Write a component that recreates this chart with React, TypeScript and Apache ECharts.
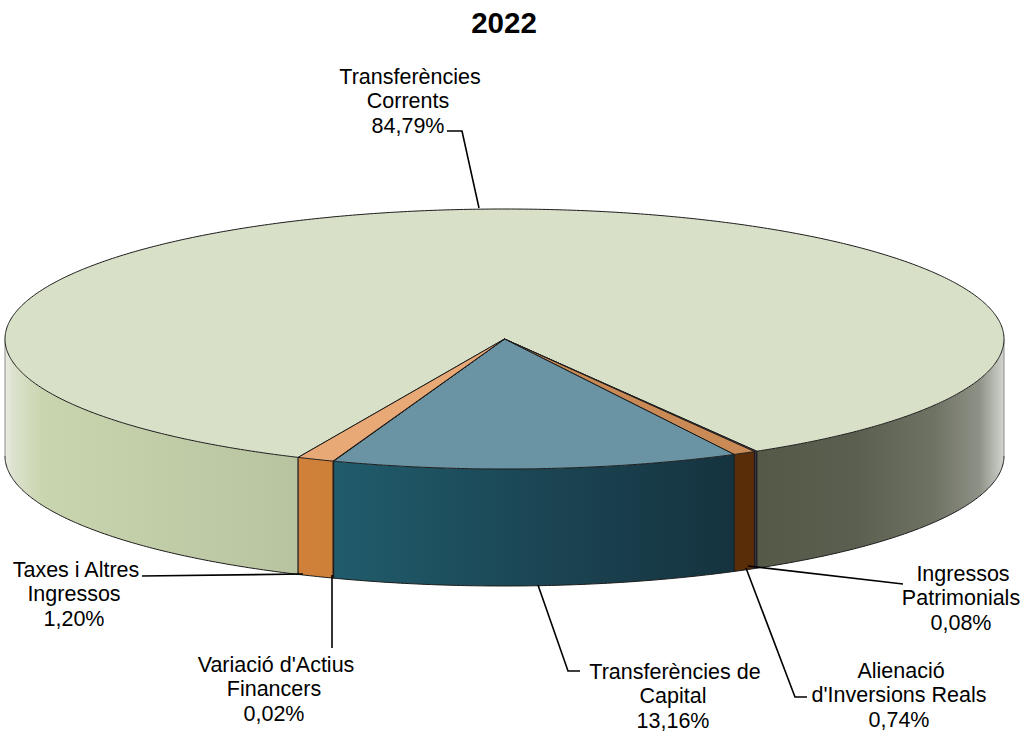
import React, { useEffect, useRef } from "react";
import * as echarts from "echarts";

const titleText = "2022";
const categories = [
  "Transferències\nCorrents",
  "Ingressos\nPatrimonials",
  "Alienació\nd'Inversions Reals",
  "Transferències de\nCapital",
  "Variació d'Actius\nFinancers",
  "Taxes i Altres\nIngressos",
];
const shares = [84.79, 0.08, 0.74, 13.16, 0.02, 1.2];
const shareLabels = ["84,79%", "0,08%", "0,74%", "13,16%", "0,02%", "1,20%"];

// styling and layout, apart from the data
const topColors = ["#d8e0c7", "#8a6a9a", "#c98a55", "#6a94a4", "#e9a976", "#e9a976"];
const sideStops: [number, string][][] = [
  [[0, "#e8ebe0"], [0.03, "#dbe1cd"], [0.13, "#c9d5ae"], [1, "#b8c4a0"]],
  [[0, "#3a3450"], [1, "#3a3450"]],
  [[0, "#5a2e08"], [1, "#572c07"]],
  [[0, "#205c6c"], [0.55, "#1b4452"], [1, "#15333f"]],
  [[0, "#d08039"], [1, "#d08039"]],
  [[0, "#d08039"], [1, "#ce7f38"]],
];
const rightSideStops: [number, string][] = [
  [0, "#555948"], [0.4, "#5b5f4f"], [0.72, "#6f7364"], [0.9, "#8e9186"], [0.98, "#c4c7bf"], [1, "#d2d4ce"],
];
const cx = 504.5;
const cy = 339;
const rx = 499.5;
const ry = 130;
const depth = 117;
const startDeg = 114.4;
const ink = "#1c1c1c";
const font = '"Liberation Sans", Arial, sans-serif';
const lineShift = [0, -2, -2];

const labelLayout = [
  { x: 410, y: 76.5, line: [[447, 131], [462, 131], [479, 208]] },
  { x: 963, y: 573.5, line: [[748, 566], [903, 584]] },
  { x: 901, y: 670.5, line: [[746, 568], [795, 697], [807, 697]] },
  { x: 675, y: 671.5, line: [[538, 585], [568, 671], [580, 671]] },
  { x: 276, y: 664.5, line: [[332, 575], [332, 648]] },
  { x: 76, y: 569.5, line: [[142, 576], [303, 574]] },
];

const total = shares.reduce((a, b) => a + b, 0);
const pt = (deg: number, dy = 0): number[] => {
  const r = (deg * Math.PI) / 180;
  return [cx + rx * Math.cos(r), cy + ry * Math.sin(r) + dy];
};
const arc = (a: number, b: number, dy = 0): number[][] => {
  const n = Math.max(2, Math.ceil(Math.abs(b - a) / 0.5));
  const out: number[][] = [];
  for (let i = 0; i <= n; i++) out.push(pt(a + ((b - a) * i) / n, dy));
  return out;
};

function renderSlice(params: any, api: any) {
  const i = params.dataIndex;
  const before = shares.slice(0, i).reduce((a, b) => a + b, 0);
  const a0 = startDeg + (before / total) * 360;
  const a1 = a0 + (api.value(0) / total) * 360;
  const children: any[] = [];
  // visible front wall: parts of the arc within 0..180 degrees (mod 360)
  [[0, 180], [360, 540]].forEach(([lo, hi]) => {
    const s = Math.max(a0, lo);
    const e = Math.min(a1, hi);
    if (e <= s) return;
    const top = arc(s, e);
    const bottom = arc(e, s, depth);
    const stops = lo === 360 && i === 0 ? rightSideStops : sideStops[i];
    children.push({
      type: "polygon",
      shape: { points: [...top, ...bottom] },
      style: {
        fill: {
          type: "linear",
          x: 0,
          y: 0,
          x2: 1,
          y2: 0,
          colorStops: stops.map(([o, c]) => ({ offset: o, color: c })),
        },
        stroke: "none",
      },
      silent: true,
    });
    children.push({
      type: "polyline",
      shape: { points: arc(s, e, depth) },
      style: { fill: "none", stroke: ink, lineWidth: 1 },
      silent: true,
    });
    [s, e].forEach((d) => {
      const edge = d === 0 || d === 180 || d === 360 || d === 540;
      children.push({
        type: "line",
        shape: { x1: pt(d)[0], y1: pt(d)[1], x2: pt(d, depth)[0], y2: pt(d, depth)[1] },
        style: { stroke: edge ? "#8c8c8c" : ink, lineWidth: 1 },
        silent: true,
      });
    });
  });
  children.push({
    type: "polygon",
    shape: { points: [[cx, cy], ...arc(a0, a1)] },
    style: { fill: topColors[i], stroke: ink, lineWidth: 1, lineJoin: "round" },
    silent: true,
  });
  return { type: "group", children };
}

const labelElements: any[] = categories.flatMap((name, i) => {
  const l = labelLayout[i];
  return [
    {
      type: "polyline",
      z: 20,
      shape: { points: l.line },
      style: { fill: "none", stroke: "#000", lineWidth: 1.6 },
      silent: true,
    },
    ...[...name.split("\n"), shareLabels[i]].map((t, k) => ({
      type: "text",
      z: 20,
      x: l.x + lineShift[k],
      y: l.y + k * 24.5,
      style: { text: t, fill: "#000", font: `21.5px ${font}`, align: "center", verticalAlign: "middle" },
      silent: true,
    })),
  ];
});

export default function App() {
  const ref = useRef<HTMLDivElement>(null);
  useEffect(() => {
    const chart = echarts.init(ref.current!, null, { renderer: "svg" });
    chart.setOption({
      animation: false,
      backgroundColor: "#ffffff",
      title: {
        text: titleText,
        left: 499,
        top: 2,
        textAlign: "center",
        textStyle: { fontFamily: font, fontWeight: "bold", fontSize: 29.5, color: "#000" },
      },
      series: [
        {
          type: "custom",
          coordinateSystem: "none",
          renderItem: renderSlice,
          data: shares.map((v) => [v]),
          silent: true,
        },
      ],
      graphic: {
        elements: [
          ...labelElements,
        ],
      },
    });
    return () => chart.dispose();
  }, []);
  return <div ref={ref} style={{ width: 1023, height: 731, position: "absolute", left: 0, top: 0 }} />;
}
